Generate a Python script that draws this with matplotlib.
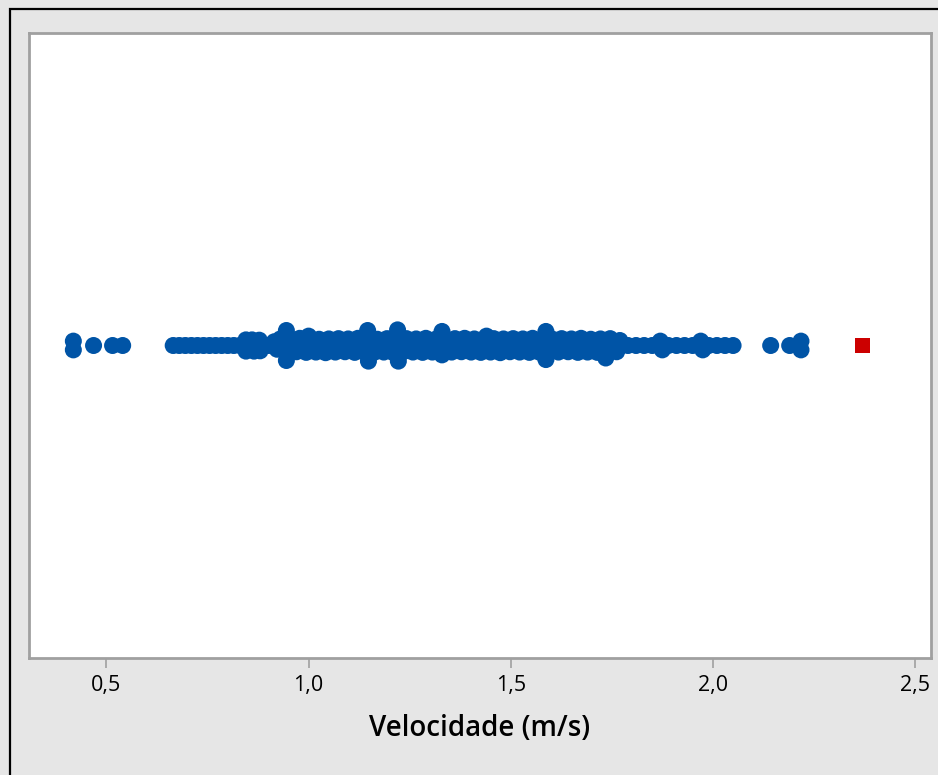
import matplotlib
matplotlib.use("Agg")
import matplotlib.pyplot as plt
from matplotlib.patches import Rectangle

# velocidades (m/s) e deslocamento vertical (jitter) de cada ponto
vel_esq = [0.418, 0.418, 0.468, 0.515, 0.540,
           0.665, 0.680, 0.695, 0.710, 0.725, 0.740, 0.755, 0.770, 0.785, 0.800,
           0.815, 0.830, 0.845, 0.845, 0.860, 0.865, 0.878, 0.880, 0.900, 0.915, 0.922]
desl_esq = [0.014, -0.014, 0.0, 0.0, 0.0,
            0.0, 0.0, 0.0, 0.0, 0.0, 0.0, 0.0, 0.0, 0.0, 0.0,
            0.0, 0.0, 0.018, -0.018, 0.018, -0.018, 0.017, -0.017, 0.0, 0.012, -0.012]

vel_meio = [
    0.930, 0.938, 0.946, 0.954, 0.962, 0.970, 0.978, 0.986, 0.994, 1.002,
    1.010, 1.018, 1.026, 1.034, 1.042, 1.050, 1.058, 1.066, 1.074, 1.082,
    1.090, 1.098, 1.106, 1.114, 1.122, 1.130, 1.138, 1.146, 1.154, 1.162,
    1.170, 1.178, 1.186, 1.194, 1.202, 1.210, 1.218, 1.226, 1.234, 1.242,
    1.250, 1.258, 1.266, 1.274, 1.282, 1.290, 1.298, 1.306, 1.314, 1.322,
    1.330, 1.338, 1.346, 1.354, 1.362, 1.370, 1.378, 1.386, 1.394, 1.402,
    1.410, 1.418, 1.426, 1.434, 1.442, 1.450, 1.458, 1.466, 1.474, 1.482,
    1.490, 1.498, 1.506, 1.514, 1.522, 1.530, 1.538, 1.546, 1.554, 1.562,
    1.570, 1.578, 1.586, 1.594, 1.602, 1.610, 1.618, 1.626, 1.634, 1.642,
    1.650, 1.658, 1.666, 1.674, 1.682, 1.690, 1.698, 1.706, 1.714, 1.722,
    1.730, 1.738, 1.746, 1.754, 1.762, 1.770,
]
desl_meio = [
    0.021, 0.0, -0.021, 0.022, 0.0, -0.020, 0.023, 0.0, -0.022, 0.021,
    0.0, -0.021, 0.020, 0.0, -0.023, 0.021, 0.0, -0.021, 0.022, 0.0,
    -0.020, 0.021, 0.0, -0.022, 0.023, 0.0, -0.021, 0.021, 0.0, -0.022,
    0.020, 0.0, -0.021, 0.022, 0.0, -0.023, 0.021, 0.0, -0.020, 0.022,
    0.0, -0.021, 0.021, 0.0, -0.022, 0.023, 0.0, -0.021, 0.020, 0.0,
    -0.022, 0.021, 0.0, -0.021, 0.022, 0.0, -0.020, 0.023, 0.0, -0.021,
    0.021, 0.0, -0.022, 0.020, 0.0, -0.021, 0.022, 0.0, -0.023, 0.021,
    0.0, -0.020, 0.022, 0.0, -0.021, 0.021, 0.0, -0.022, 0.023, 0.0,
    -0.021, 0.020, 0.0, -0.022, 0.021, 0.0, -0.021, 0.022, 0.0, -0.020,
    0.021, 0.0, -0.022, 0.023, 0.0, -0.021, 0.020, 0.0, -0.022, 0.021,
    0.0, -0.021, 0.022, 0.0, -0.020, 0.016,
]

# pontos mais afastados do centro
vel_pico = [0.945, 0.945, 1.000, 1.146, 1.148, 1.220, 1.222, 1.330, 1.330,
            1.440, 1.587, 1.587, 1.735]
desl_pico = [0.048, -0.048, 0.030, 0.048, -0.050, 0.050, -0.050, 0.045, -0.030,
             0.030, 0.045, -0.045, -0.040]

vel_dir = [1.775, 1.790, 1.810, 1.830, 1.850, 1.870, 1.875, 1.890, 1.910, 1.930,
           1.950, 1.970, 1.975, 1.990, 2.010, 2.030, 2.050, 2.143, 2.190, 2.218, 2.218]
desl_dir = [0.0, 0.0, 0.0, 0.0, 0.0, 0.014, -0.014, 0.0, 0.0, 0.0,
            0.0, 0.014, -0.014, 0.0, 0.0, 0.0, 0.0, 0.0, 0.0, 0.014, -0.014]

outlier = [2.371]
tick_vals = [0.5, 1.0, 1.5, 2.0, 2.5]
tick_labels = ["0,5", "1,0", "1,5", "2,0", "2,5"]

velocidade = vel_esq + vel_meio + vel_pico + vel_dir
desloc = desl_esq + desl_meio + desl_pico + desl_dir

plt.rcParams['font.family'] = ['Open Sans', 'DejaVu Sans']

fig = plt.figure(figsize=(9.38, 7.75), dpi=100, facecolor='#e6e6e6')
# moldura preta externa (só topo e esquerda visíveis)
fig.patches.append(Rectangle((9.5 / 938, -0.05), 1.2, 1 - 9.5 / 775 + 0.05,
                             transform=fig.transFigure, fill=False,
                             edgecolor='black', linewidth=1.6))

ax = fig.add_axes([29 / 938, 1 - 658 / 775, (931 - 29) / 938, (658 - 33) / 775])
ax.set_facecolor('white')

ax.scatter(velocidade, desloc, s=150, color='#0054a6', edgecolors='none', zorder=3)
ax.scatter(outlier, [0.0] * len(outlier), s=120, marker='s', color='#cc0000',
           edgecolors='none', zorder=4)

ax.set_xlim(0.3083, 2.5396)
ax.set_ylim(-1, 1)
ax.set_yticks([])
ax.set_xticks(tick_vals)
ax.set_xticklabels(tick_labels, fontsize=15.5)
ax.tick_params(axis='x', direction='out', length=7, width=1.2, color='#a0a0a0', pad=5)
for s in ax.spines.values():
    s.set_color('#a0a0a0')
    s.set_linewidth(2)
ax.set_xlabel('Velocidade (m/s)', fontsize=20, fontweight='semibold', labelpad=13)

fig.savefig('out.png', dpi=100, facecolor=fig.get_facecolor())
